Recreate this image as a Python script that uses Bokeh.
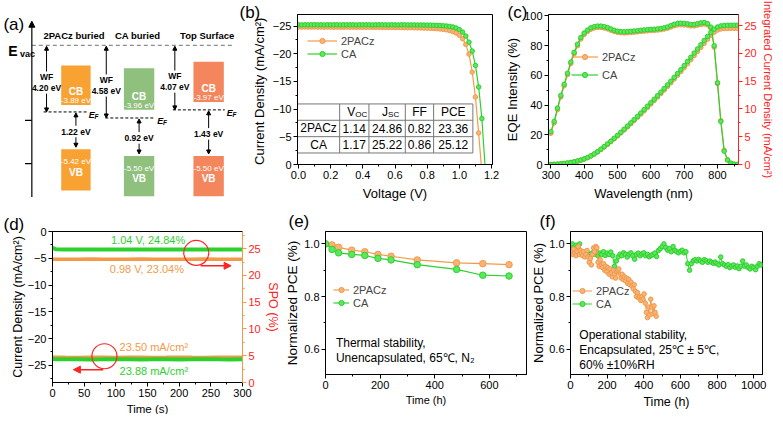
from bokeh.plotting import figure
from bokeh.models import (Range1d, LinearAxis, SingleIntervalTicker, Arrow,
                          NormalHead, PrintfTickFormatter, Legend, LegendItem)
from bokeh.layouts import row, column
from bokeh.embed import file_html
from bokeh.resources import INLINE
from bokeh.core.properties import value

FONT = "Liberation Sans"
ORANGE = "#F29A48"
ORANGE_FILL = "#F7B37A"
GREEN = "#2DD12D"
GREEN_FILL = "#5EE65E"
RED = "#FF2323"
BOX_COLORS = ["#F7A233", "#8FC07D", "#F3865C"]

# ---------------- data: (a) energy levels
a_titles = ["2PACz buried", "CA buried", "Top Surface"]
a_wf = [4.20, 4.58, 4.07]
a_cb = [-3.89, -3.96, -3.97]
a_vb = [-5.42, -5.50, -5.50]
a_gap = [1.22, 0.92, 1.43]

# ---------------- data: (b) J-V
jv_v = [0.00, 0.02, 0.04, 0.06, 0.08, 0.10, 0.12, 0.14, 0.16, 0.18,
        0.20, 0.22, 0.24, 0.26, 0.28, 0.30, 0.32, 0.34, 0.36, 0.38,
        0.40, 0.42, 0.44, 0.46, 0.48, 0.50, 0.52, 0.54, 0.56, 0.58,
        0.60, 0.62, 0.64, 0.66, 0.68, 0.70, 0.72, 0.74, 0.76, 0.78,
        0.80, 0.82, 0.84, 0.86, 0.88, 0.90, 0.92, 0.94, 0.96, 0.98,
        1.00, 1.02, 1.04, 1.06, 1.08, 1.10, 1.12, 1.14, 1.16]
jv_2pacz = [-24.84, -24.83, -24.85, -24.83, -24.82, -24.84, -24.82, -24.83, -24.81, -24.83,
            -24.82, -24.80, -24.82, -24.81, -24.80, -24.82, -24.80, -24.81, -24.79, -24.80,
            -24.80, -24.78, -24.80, -24.79, -24.78, -24.79, -24.77, -24.78, -24.76, -24.77,
            -24.75, -24.76, -24.74, -24.73, -24.72, -24.71, -24.70, -24.68, -24.67, -24.65,
            -24.63, -24.61, -24.58, -24.54, -24.49, -24.42, -24.33, -24.20, -24.02, -23.76,
            -23.36, -22.72, -21.70, -19.95, -16.70, -12.20, -5.70, 1.40, 8.50]
jv_ca = [-25.24, -25.22, -25.25, -25.23, -25.24, -25.26, -25.23, -25.24, -25.22, -25.25,
         -25.23, -25.24, -25.25, -25.22, -25.24, -25.23, -25.25, -25.24, -25.22, -25.24,
         -25.23, -25.25, -25.24, -25.22, -25.23, -25.25, -25.24, -25.23, -25.22, -25.24,
         -25.23, -25.22, -25.24, -25.23, -25.22, -25.21, -25.22, -25.20, -25.21, -25.19,
         -25.19, -25.18, -25.16, -25.14, -25.11, -25.07, -25.02, -24.95, -24.84, -24.66,
         -24.38, -23.92, -23.20, -22.10, -20.50, -17.90, -14.00, -8.30, 0.40]
tbl_head = ["V", "J", "FF", "PCE"]
tbl_head_sub = ["OC", "SC", "", ""]
tbl_rows = ["2PACz", "CA"]
tbl_voc = [1.14, 1.17]
tbl_jsc = [24.86, 25.22]
tbl_ff = [0.82, 0.86]
tbl_pce = [23.36, 25.12]

# ---------------- data: (c) EQE
wl = [300, 310, 320, 330, 340, 350, 360, 370, 380, 390,
      400, 410, 420, 430, 440, 450, 460, 470, 480, 490,
      500, 510, 520, 530, 540, 550, 560, 570, 580, 590,
      600, 610, 620, 630, 640, 650, 660, 670, 680, 690,
      700, 710, 720, 730, 740, 750, 760, 770, 780, 790,
      800, 810, 820, 830, 840, 850, 860]
eqe_ca = [22.0, 29.0, 38.0, 46.5, 54.0, 61.5, 69.0, 75.5, 81.0, 85.5,
          88.5, 90.5, 92.0, 92.8, 93.2, 93.2, 92.8, 92.2, 91.3, 90.4,
          89.8, 89.5, 89.4, 89.5, 89.7, 89.9, 90.1, 90.4, 90.6, 90.8,
          91.0, 91.1, 91.3, 91.6, 92.0, 92.6, 93.5, 94.4, 95.0, 95.1,
          95.0, 94.7, 94.3, 94.3, 94.8, 95.3, 95.6, 94.9, 92.5, 80.0,
          55.0, 29.0, 9.0, 3.0, 0.8, 0.2, 0.1]
eqe_2pacz = [21.0, 28.0, 37.0, 45.5, 53.0, 60.5, 68.0, 74.5, 80.0, 84.5,
             87.5, 89.6, 91.1, 91.9, 92.3, 92.3, 91.9, 91.3, 90.4, 89.6,
             89.0, 88.7, 88.6, 88.7, 88.9, 89.1, 89.3, 89.6, 89.8, 90.0,
             90.2, 90.3, 90.5, 90.8, 91.2, 91.8, 92.6, 93.4, 93.9, 94.1,
             94.0, 93.7, 93.3, 93.3, 93.8, 94.3, 94.6, 94.0, 91.8, 79.0,
             54.5, 29.5, 9.5, 3.2, 0.9, 0.2, 0.1]
jint_ca = [0.00, 0.03, 0.07, 0.12, 0.19, 0.27, 0.37, 0.49, 0.63, 0.80,
           1.00, 1.25, 1.55, 1.90, 2.30, 2.75, 3.22, 3.70, 4.20, 4.72,
           5.25, 5.80, 6.35, 6.92, 7.50, 8.08, 8.67, 9.27, 9.88, 10.50,
           11.12, 11.75, 12.38, 13.02, 13.67, 14.33, 15.00, 15.68, 16.37, 17.06,
           17.80, 18.55, 19.30, 20.05, 20.80, 21.55, 22.30, 23.05, 23.75, 24.35,
           24.75, 24.95, 25.03, 25.06, 25.07, 25.07, 25.07]
jint_2pacz = [0.00, 0.03, 0.07, 0.12, 0.18, 0.26, 0.36, 0.48, 0.62, 0.78,
              0.98, 1.22, 1.52, 1.86, 2.25, 2.69, 3.15, 3.62, 4.11, 4.62,
              5.14, 5.68, 6.22, 6.77, 7.34, 7.91, 8.49, 9.08, 9.68, 10.28,
              10.89, 11.51, 12.13, 12.76, 13.40, 14.05, 14.71, 15.38, 16.05, 16.73,
              17.42, 18.14, 18.87, 19.60, 20.33, 21.07, 21.80, 22.53, 23.22, 23.80,
              24.20, 24.40, 24.48, 24.50, 24.51, 24.51, 24.51]

# ---------------- data: (d) steady state
t_d = [0, 5, 20, 40, 60, 80, 100, 120, 140, 160, 180, 200, 220, 240, 260, 280, 300]
spo_ca = [25.15, 24.90, 24.84, 24.86, 24.83, 24.85, 24.84, 24.82, 24.85, 24.84,
          24.86, 24.83, 24.84, 24.85, 24.83, 24.84, 24.84]
spo_2pacz = [23.00, 23.02, 23.04, 23.03, 23.05, 23.04, 23.02, 23.04, 23.05, 23.03,
             23.04, 23.04, 23.02, 23.05, 23.04, 23.03, 23.04]
jss_2pacz = [-23.45, -23.48, -23.50, -23.51, -23.49, -23.50, -23.52, -23.50, -23.49, -23.51,
             -23.50, -23.48, -23.50, -23.51, -23.50, -23.49, -23.50]
jss_ca = [-23.80, -23.85, -23.88, -23.87, -23.89, -23.88, -23.86, -23.88, -23.90, -23.88,
          -23.87, -23.89, -23.88, -23.86, -23.88, -23.89, -23.88]

# ---------------- data: (e) thermal stability
t_e = [0, 24, 48, 96, 144, 192, 240, 336, 480, 576, 672]
pce_e_2pacz = [1.000, 0.996, 0.987, 0.976, 0.970, 0.960, 0.953, 0.939, 0.928, 0.925, 0.921]
pce_e_ca = [1.000, 0.979, 0.966, 0.960, 0.956, 0.945, 0.939, 0.921, 0.903, 0.881, 0.878]

# ---------------- data: (f) operational stability
t_f_2pacz = [0, 6, 12, 18, 24, 30, 36, 42, 48, 54,
             60, 66, 72, 78, 84, 90, 96, 102, 108, 114,
             120, 126, 132, 138, 144, 150, 156, 162, 168, 174,
             180, 186, 192, 198, 204, 210, 216, 222, 228, 234,
             240, 246, 252, 258, 264, 270, 276, 282, 288, 294,
             300, 306, 312, 318, 324, 330, 336, 342, 348, 354,
             360, 366, 372, 378, 384, 390, 396, 402, 408, 414,
             420, 426, 432, 438, 444, 450, 456, 462, 468]
pce_f_2pacz = [0.970, 0.975, 0.960, 0.980, 0.965, 0.955, 0.970, 0.990, 0.960, 0.975,
               0.965, 0.955, 0.970, 0.950, 0.960, 0.975, 0.950, 0.930, 0.945, 0.920,
               0.960, 0.985, 0.970, 0.990, 0.985, 0.930, 0.915, 0.940, 0.920, 0.910,
               0.925, 0.900, 0.915, 0.895, 0.910, 0.885, 0.905, 0.890, 0.875, 0.900,
               0.885, 0.870, 0.895, 0.900, 0.905, 0.885, 0.870, 0.885, 0.865, 0.875,
               0.860, 0.870, 0.850, 0.865, 0.845, 0.855, 0.840, 0.830, 0.845, 0.820,
               0.800, 0.815, 0.795, 0.800, 0.785, 0.800, 0.790, 0.810, 0.775, 0.740,
               0.720, 0.760, 0.730, 0.790, 0.760, 0.735, 0.765, 0.740, 0.725]
t_f_ca = [0, 10, 20, 30, 40, 50, 60, 70, 80, 90,
          100, 110, 120, 130, 140, 150, 160, 170, 180, 190,
          200, 210, 220, 230, 240, 250, 260, 270, 280, 290,
          300, 310, 320, 330, 340, 350, 360, 370, 380, 390,
          400, 410, 420, 430, 440, 450, 460, 470, 480, 490,
          500, 510, 520, 530, 540, 550, 560, 570, 580, 590,
          600, 610, 620, 630, 640, 650, 660, 670, 680, 690,
          700, 710, 720, 730, 740, 750, 760, 770, 780, 790,
          800, 810, 820, 830, 840, 850, 860, 870, 880, 890,
          900, 910, 920, 930, 940, 950, 960, 970, 980, 990,
          1000, 1010, 1020, 1030, 1040]
pce_f_ca = [0.990, 1.000, 0.985, 0.995, 0.990, 1.000, 0.972, 0.965, 0.957, 0.970,
            0.960, 0.952, 0.966, 0.960, 0.971, 0.955, 0.965, 0.960, 0.970, 0.956,
            0.965, 0.960, 0.969, 0.955, 0.915, 0.935, 0.950, 0.961, 0.955, 0.966,
            0.960, 0.950, 0.961, 0.966, 0.955, 0.942, 0.960, 0.965, 0.955, 0.962,
            0.966, 0.955, 0.960, 0.951, 0.956, 0.960, 0.965, 0.952, 0.975, 0.982,
            0.990, 1.000, 0.986, 0.976, 0.982, 0.970, 0.990, 0.975, 0.970, 0.966,
            0.972, 0.976, 0.966, 0.970, 0.925, 0.900, 0.925, 0.936, 0.940, 0.935,
            0.941, 0.935, 0.930, 0.940, 0.936, 0.930, 0.935, 0.930, 0.926, 0.931,
            0.925, 0.920, 0.950, 0.925, 0.920, 0.915, 0.921, 0.910, 0.916, 0.920,
            0.911, 0.916, 0.906, 0.915, 0.935, 0.915, 0.920, 0.910, 0.905, 0.915,
            0.910, 0.902, 0.915, 0.925, 0.920]


# ---------------- helpers
def mkfig(fw, fh, xr, yr, lb, rb, tb, bb):
    p = figure(frame_width=fw, frame_height=fh, x_range=xr, y_range=yr,
               min_border_left=lb, min_border_right=rb, min_border_top=tb,
               min_border_bottom=bb, output_backend="svg", toolbar_location=None)
    p.xgrid.visible = False
    p.ygrid.visible = False
    p.outline_line_color = "black"
    p.outline_line_alpha = 1.0
    p.background_fill_color = "white"
    p.border_fill_color = "white"
    return p


def style_axis(ax, label, label_size="13px", tick_size="11px", color="black",
               text_color="black", lstand=2, tstand=2):
    ax.axis_label = label
    ax.axis_label_text_font = FONT
    ax.axis_label_text_font_style = "normal"
    ax.axis_label_text_font_size = label_size
    ax.axis_label_text_color = text_color
    ax.axis_label_standoff = lstand
    ax.major_label_text_font = FONT
    ax.major_label_text_font_size = tick_size
    ax.major_label_text_color = text_color
    ax.major_label_standoff = tstand
    ax.axis_line_color = color
    ax.major_tick_line_color = color
    ax.minor_tick_line_color = color
    ax.major_tick_in = 0
    ax.major_tick_out = 4
    ax.minor_tick_in = 0
    ax.minor_tick_out = 2


def panel_label(p, text, offset, standoff):
    t = p.title
    t.text = text
    t.align = "left"
    t.offset = offset
    t.standoff = standoff
    t.vertical_align = "bottom"
    t.text_font = FONT
    t.text_font_size = "17px"
    t.text_font_style = "normal"
    t.text_color = "black"


def legend(p, items, loc, gw, spacing=0):
    lg = Legend(items=items, location=loc, glyph_width=gw, glyph_height=13,
                label_height=13, label_standoff=4, spacing=spacing, padding=0,
                margin=0, border_line_alpha=0, background_fill_alpha=0,
                label_text_font=FONT, label_text_font_size="11px")
    p.add_layout(lg)


def txt(p, x, y, t, size, color="black", align="center", base="middle", style="normal"):
    p.text(x=x, y=y, text=t, text_font=value(FONT), text_font_size=size,
           text_color=color, text_align=align, text_baseline=base, text_font_style=style)


# ================= panel (a)
pa = figure(frame_width=238, frame_height=197, x_range=Range1d(0, 243),
            y_range=Range1d(204.8, 0), x_axis_type=None, y_axis_type=None,
            min_border=0, output_backend="svg", toolbar_location=None,
            outline_line_color=None)
pa.background_fill_color = "white"
EVAC_Y = 32.0
EV_PX = 16.5
wf_x = [47, 108, 178]
title_x = [75, 140, 211]
box_l = [62, 126, 197]
box_r = [92, 157, 228]
cb_top = [53, 56, 49]
cb_bot = [94, 99, 91]
vb_top = [140, 147, 147]
vb_bot = [183, 189, 189]
ef_l = [44, 107, 176]
ef_r = [88, 158, 229]
ef_y = [EVAC_Y + w * EV_PX for w in a_wf]
box_c = [(l + r) / 2 for l, r in zip(box_l, box_r)]

pa.quad(left=box_l, right=box_r, top=cb_top, bottom=cb_bot, fill_color=BOX_COLORS, line_color=None)
pa.quad(left=box_l, right=box_r, top=vb_top, bottom=vb_bot, fill_color=BOX_COLORS, line_color=None)
pa.segment(x0=[32], y0=[EVAC_Y], x1=[238], y1=[EVAC_Y], line_color="#707070",
           line_dash="4 3", line_width=1)
pa.segment(x0=ef_l, y0=ef_y, x1=ef_r, y1=ef_y, line_color="black", line_dash="3 2", line_width=1)
pa.add_layout(Arrow(end=NormalHead(size=6, fill_color="black", line_color="black"),
                    x_start=32, y_start=200, x_end=32, y_end=7, line_width=1.2))
pa.segment(x0=[25, 25], y0=[110, 155], x1=[32, 32], y1=[110, 155], line_color="black", line_width=1.2)

wf_lab_y = [EVAC_Y + 0.48 * (e - EVAC_Y) for e in ef_y]
wf_val_y = [y + 11 for y in wf_lab_y]
gap_y = [(e + t) / 2 + 1 for e, t in zip(ef_y, vb_top)]
for x, ly, vy, e in zip(wf_x, wf_lab_y, wf_val_y, ef_y):
    pa.add_layout(Arrow(end=NormalHead(size=4, fill_color="black", line_color="black"),
                        x_start=x, y_start=ly - 6, x_end=x, y_end=EVAC_Y + 1, line_width=1))
    pa.add_layout(Arrow(end=NormalHead(size=4, fill_color="black", line_color="black"),
                        x_start=x, y_start=vy + 6, x_end=x, y_end=e, line_width=1))
for x, gy, e, t in zip(box_c, gap_y, ef_y, vb_top):
    pa.add_layout(Arrow(end=NormalHead(size=4, fill_color="black", line_color="black"),
                        x_start=x, y_start=gy - 6, x_end=x, y_end=e + 1, line_width=1))
    pa.add_layout(Arrow(end=NormalHead(size=4, fill_color="black", line_color="black"),
                        x_start=x, y_start=gy + 6, x_end=x, y_end=t - 2, line_width=1))

txt(pa, title_x, [22] * 3, a_titles, "9.5px", style="bold")
txt(pa, wf_x, wf_lab_y, ["WF"] * 3, "8.5px", style="bold")
txt(pa, wf_x, wf_val_y, [f"{w:.2f} eV" for w in a_wf], "8.5px", style="bold")
txt(pa, box_c, [b - 14 for b in cb_bot], ["CB"] * 3, "10px", color="white", style="bold")
txt(pa, box_c, [b - 4.5 for b in cb_bot], [f"{v:.2f} eV" for v in a_cb], "8px", color="white")
txt(pa, box_c, [t + 13 for t in vb_top], [f"{v:.2f} eV" for v in a_vb], "8px", color="white")
txt(pa, box_c, [t + 24 for t in vb_top], ["VB"] * 3, "10px", color="white", style="bold")
txt(pa, box_c, gap_y, [f"{g:.2f} eV" for g in a_gap], "8.5px", style="bold")
txt(pa, [r + 2 for r in ef_r], [e + 3 for e in ef_y], ["E"] * 3, "9px", align="left", style="bold italic")
txt(pa, [r + 8 for r in ef_r], [e + 5 for e in ef_y], ["F"] * 3, "6.5px", align="left", style="bold italic")
txt(pa, [8], [38], ["E"], "14px", align="left", base="alphabetic", style="bold")
txt(pa, [20], [41.5], ["vac"], "9px", align="left", base="alphabetic", style="bold")
txt(pa, [3], [1], ["(a)"], "17px", align="left", base="top")

# ================= panel (b)
pb = mkfig(195, 150, Range1d(-0.006, 1.206), Range1d(0, -27.1), 59, 10, 14, 33)
style_axis(pb.xaxis[0], "Voltage (V)", lstand=4)
style_axis(pb.yaxis[0], "Current Density  (mA/cm²)", lstand=3)
pb.xaxis[0].ticker = SingleIntervalTicker(interval=0.2, num_minor_ticks=2)
pb.xaxis[0].formatter = PrintfTickFormatter(format="%.1f")
pb.yaxis[0].ticker = SingleIntervalTicker(interval=5, num_minor_ticks=2)
lb1 = pb.line(jv_v, jv_2pacz, line_color=ORANGE, line_width=1.2)
sb1 = pb.scatter(jv_v, jv_2pacz, marker="circle", size=4.5, fill_color=ORANGE_FILL, line_color=ORANGE)
lb2 = pb.line(jv_v, jv_ca, line_color=GREEN, line_width=1.2)
sb2 = pb.scatter(jv_v, jv_ca, marker="circle", size=4.5, fill_color=GREEN_FILL, line_color=GREEN)
legend(pb, [LegendItem(label="2PACz", renderers=[lb1, sb1]),
            LegendItem(label="CA", renderers=[lb2, sb2])], (10, 104), 30)
# table
tx = [-0.006, 0.256, 0.438, 0.664, 0.840, 1.084]
ty = [-10.94, -7.99, -5.03, -2.08]
pb.quad(left=[tx[0]], right=[tx[-1]], top=[ty[0]], bottom=[ty[-1]], fill_color="white",
        line_color="#777777", line_width=1)
pb.segment(x0=tx[1:-1], y0=[ty[0]] * 4, x1=tx[1:-1], y1=[ty[-1]] * 4, line_color="#777777", line_width=1)
pb.segment(x0=[tx[0]] * 2, y0=ty[1:3], x1=[tx[-1]] * 2, y1=ty[1:3], line_color="#777777", line_width=1)
cx = [(a + b) / 2 for a, b in zip(tx[:-1], tx[1:])]
cy = [(a + b) / 2 for a, b in zip(ty[:-1], ty[1:])]
pb.text(x=cx[1:3], y=[cy[0]] * 2, text=tbl_head[:2], text_font=value(FONT), text_font_size="12px",
        text_align="right", text_baseline="middle", x_offset=1)
pb.text(x=cx[1:3], y=[cy[0]] * 2, text=tbl_head_sub[:2], text_font=value(FONT), text_font_size="8px",
        text_align="left", text_baseline="middle", x_offset=1, y_offset=2)
txt(pb, cx[3:5], [cy[0]] * 2, tbl_head[2:], "12px")
txt(pb, [cx[0]] * 2, cy[1:], tbl_rows, "12px")
txt(pb, [cx[1]] * 2, cy[1:], [f"{v:.2f}" for v in tbl_voc], "12px")
txt(pb, [cx[2]] * 2, cy[1:], [f"{v:.2f}" for v in tbl_jsc], "12px")
txt(pb, [cx[3]] * 2, cy[1:], [f"{v:.2f}" for v in tbl_ff], "12px")
txt(pb, [cx[4]] * 2, cy[1:], [f"{v:.2f}" for v in tbl_pce], "12px")
panel_label(pb, "(b)", -58, -14)

# ================= panel (c)
pc = mkfig(190, 150, Range1d(293, 863), Range1d(0, 101), 42, 33, 14, 33)
pc.extra_y_ranges = {"jint": Range1d(0, 27.0)}
style_axis(pc.xaxis[0], "Wavelength (nm)", lstand=4)
style_axis(pc.yaxis[0], "EQE Intensity (%)", lstand=1)
pc.xaxis[0].ticker = SingleIntervalTicker(interval=100, num_minor_ticks=2)
pc.yaxis[0].ticker = SingleIntervalTicker(interval=20, num_minor_ticks=2)
rax = LinearAxis(y_range_name="jint")
style_axis(rax, "Integrated Current Density (mA/cm²)", label_size="11px", color=RED, text_color=RED, lstand=2)
rax.ticker = SingleIntervalTicker(interval=5, num_minor_ticks=2)
pc.add_layout(rax, "right")
lc1 = pc.line(wl, eqe_2pacz, line_color=ORANGE, line_width=1.2)
sc1 = pc.scatter(wl, eqe_2pacz, marker="circle", size=4.5, fill_color=ORANGE_FILL, line_color=ORANGE)
pc.line(wl, jint_2pacz, y_range_name="jint", line_color=ORANGE, line_width=1.2)
pc.scatter(wl, jint_2pacz, y_range_name="jint", marker="circle", size=4.5, fill_color=ORANGE_FILL, line_color=ORANGE)
lc2 = pc.line(wl, eqe_ca, line_color=GREEN, line_width=1.2)
sc2 = pc.scatter(wl, eqe_ca, marker="circle", size=4.5, fill_color=GREEN_FILL, line_color=GREEN)
pc.line(wl, jint_ca, y_range_name="jint", line_color=GREEN, line_width=1.2)
pc.scatter(wl, jint_ca, y_range_name="jint", marker="circle", size=4.5, fill_color=GREEN_FILL, line_color=GREEN)
legend(pc, [LegendItem(label="2PACz", renderers=[lc1, sc1]),
            LegendItem(label="CA", renderers=[lc2, sc2])], (23, 83), 27, spacing=5)
panel_label(pc, "(c)", -41, -14)

# ================= panel (d)
pd = mkfig(190, 151, Range1d(0, 300), Range1d(-28.2, 0), 52, 32, 25, 32)
pd.extra_y_ranges = {"spo": Range1d(0, 28.2)}
style_axis(pd.xaxis[0], "Time (s)", label_size="11.5px", lstand=3)
style_axis(pd.yaxis[0], "Current Density (mA/cm²)", label_size="12.5px", lstand=0)
pd.xaxis[0].ticker = SingleIntervalTicker(interval=50, num_minor_ticks=2)
pd.yaxis[0].ticker = SingleIntervalTicker(interval=5, num_minor_ticks=2)
dax = LinearAxis(y_range_name="spo")
style_axis(dax, "SPO (%)", label_size="12.5px", color=ORANGE, text_color=RED, lstand=2)
dax.ticker = SingleIntervalTicker(interval=5, num_minor_ticks=2)
pd.add_layout(dax, "right")
pd.line(t_d, spo_2pacz, y_range_name="spo", line_color=ORANGE, line_width=3.5)
pd.line(t_d, spo_ca, y_range_name="spo", line_color=GREEN, line_width=4)
pd.line(t_d, jss_2pacz, line_color=ORANGE, line_width=3.5)
pd.line(t_d, jss_ca, line_color=GREEN, line_width=4)
txt(pd, [151], [-1.6], ["1.04 V, 24.84%"], "11px", color=GREEN)
txt(pd, [149], [-7.0], ["0.98 V, 23.04%"], "11px", color=ORANGE)
txt(pd, [160], [-21.6], ["23.50 mA/cm²"], "11px", color=ORANGE)
txt(pd, [160], [-26.0], ["23.88 mA/cm²"], "11px", color=GREEN)
pd.scatter([227, 82], [-4.0, -23.3], marker="circle", size=25, fill_alpha=0, line_color=RED, line_width=1.2)
pd.add_layout(Arrow(end=NormalHead(size=7, fill_color=RED, line_color=RED), x_start=234, y_start=-6.4,
                    x_end=282, y_end=-6.4, line_color=RED, line_width=1.5))
pd.add_layout(Arrow(end=NormalHead(size=7, fill_color=RED, line_color=RED), x_start=80, y_start=-25.8,
                    x_end=33, y_end=-25.8, line_color=RED, line_width=1.5))
panel_label(pd, "(d)", -49, -4)

# ================= panel (e)
pe = mkfig(201, 143, Range1d(0, 736), Range1d(0.504, 1.047), 37, 2, 28, 37)
style_axis(pe.xaxis[0], "Time (h)", label_size="11px", lstand=2)
style_axis(pe.yaxis[0], "Normalized PCE (%)", label_size="13.5px", lstand=1)
pe.xaxis[0].ticker = SingleIntervalTicker(interval=200, num_minor_ticks=2)
pe.yaxis[0].ticker = SingleIntervalTicker(interval=0.2, num_minor_ticks=2)
pe.yaxis[0].formatter = PrintfTickFormatter(format="%.1f")
le1 = pe.line(t_e, pce_e_2pacz, line_color=ORANGE, line_width=1.2)
se1 = pe.scatter(t_e, pce_e_2pacz, marker="circle", size=6.5, fill_color=ORANGE_FILL, line_color=ORANGE)
le2 = pe.line(t_e, pce_e_ca, line_color=GREEN, line_width=1.2)
se2 = pe.scatter(t_e, pce_e_ca, marker="circle", size=6.5, fill_color=GREEN_FILL, line_color=GREEN)
legend(pe, [LegendItem(label="2PACz", renderers=[le1, se1]),
            LegendItem(label="CA", renderers=[le2, se2])], (8, 65), 16)
txt(pe, [38], [0.622], ["Thermal stability,"], "12px", align="left")
txt(pe, [38], [0.566], ["Unencapsulated, 65℃, N₂"], "12px", align="left")
panel_label(pe, "(e)", -37, 2)

# ================= panel (f)
pf = mkfig(192, 143, Range1d(0, 1048), Range1d(0.504, 1.047), 31, 30, 28, 37)
style_axis(pf.xaxis[0], "Time (h)", label_size="12.5px", tick_size="11.5px", lstand=3)
style_axis(pf.yaxis[0], "Normalized PCE (%)", label_size="13px", lstand=0)
pf.xaxis[0].ticker = SingleIntervalTicker(interval=200, num_minor_ticks=2)
pf.yaxis[0].ticker = SingleIntervalTicker(interval=0.2, num_minor_ticks=2)
pf.yaxis[0].formatter = PrintfTickFormatter(format="%.1f")
lf2 = pf.line(t_f_ca, pce_f_ca, line_color=GREEN, line_width=1)
sf2 = pf.scatter(t_f_ca, pce_f_ca, marker="circle", size=4.5, fill_color=GREEN_FILL, line_color=GREEN)
lf1 = pf.line(t_f_2pacz, pce_f_2pacz, line_color=ORANGE, line_width=1)
sf1 = pf.scatter(t_f_2pacz, pce_f_2pacz, marker="circle", size=4.5, fill_color=ORANGE_FILL, line_color=ORANGE)
legend(pf, [LegendItem(label="2PACz", renderers=[lf1, sf1]),
            LegendItem(label="CA", renderers=[lf2, sf2])], (2, 64), 20)
txt(pf, [48], [0.655], ["Operational stability,"], "12px", align="left")
txt(pf, [48], [0.596], ["Encapsulated, 25℃ ± 5℃,"], "12px", align="left")
txt(pf, [48], [0.540], ["60% ±10%RH"], "12px", align="left")
panel_label(pf, "(f)", -31, 2)

layout = column(row(pa, pb, pc), row(pd, pe, pf))
open("out.html", "w").write(file_html(layout, INLINE, "Figure"))
